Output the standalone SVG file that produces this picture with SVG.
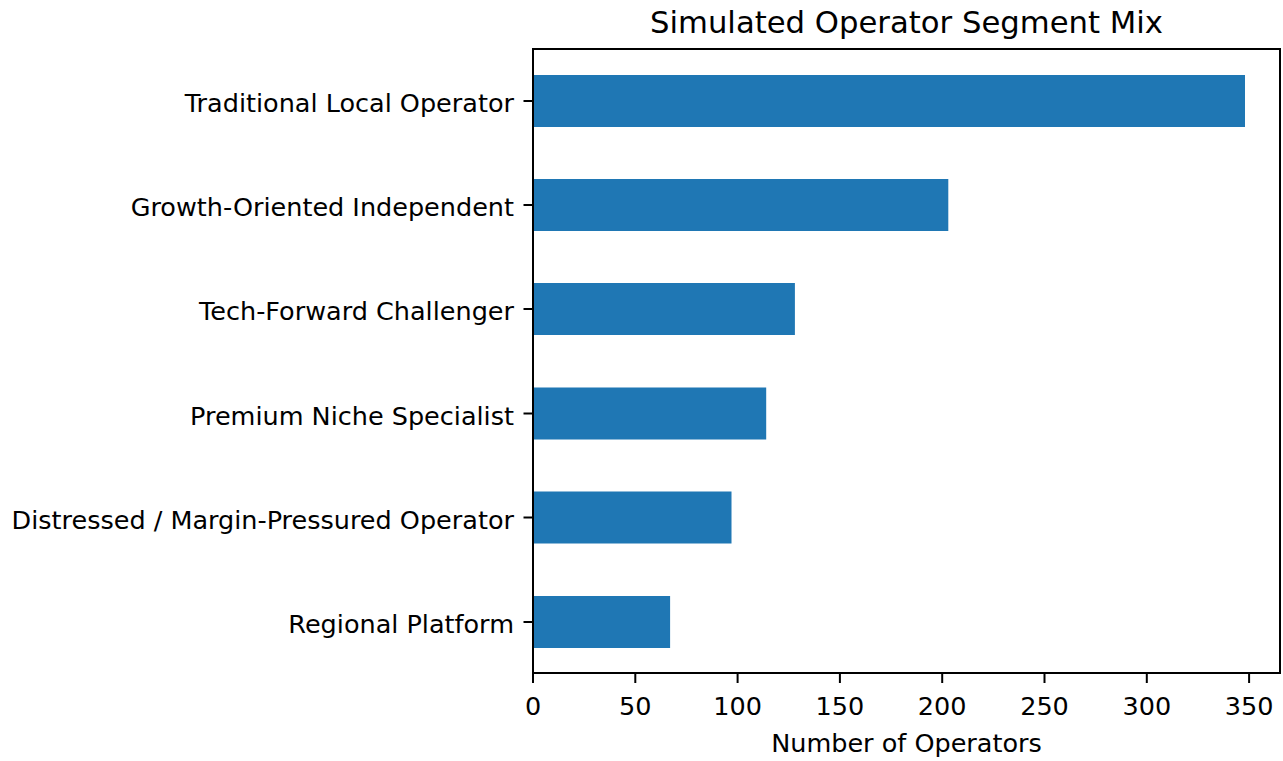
<svg xmlns="http://www.w3.org/2000/svg" width="1283" height="761" viewBox="0 0 1283 761">
<style>
text{font-family:"DejaVu Sans",sans-serif;fill:#000}
.tl{font-size:25.5px}
.yl{text-anchor:end;dominant-baseline:central}
.xl{text-anchor:middle}
.bar{fill:#1f77b4}
.tick{stroke:#000;stroke-width:2}
</style>
<rect width="1283" height="761" fill="#fff"/>
<text x="906.5" y="33" class="xl" style="font-size:30.7px">Simulated Operator Segment Mix</text>
<g id="bars">
<rect id="bar-traditional" class="bar" x="533" y="75" width="712" height="52"/>
<rect id="bar-growth" class="bar" x="533" y="179" width="415.3" height="52"/>
<rect id="bar-tech" class="bar" x="533" y="283" width="261.9" height="52"/>
<rect id="bar-premium" class="bar" x="533" y="387.5" width="233.2" height="52"/>
<rect id="bar-distressed" class="bar" x="533" y="491.5" width="198.5" height="52"/>
<rect id="bar-regional" class="bar" x="533" y="596" width="137.1" height="52"/>
</g>
<g id="axes" fill="none">
<rect x="533" y="49" width="747" height="624" stroke="#000" stroke-width="2"/>
</g>
<g id="yticks">
<line class="tick" x1="523.5" y1="101" x2="533" y2="101"/>
<line class="tick" x1="523.5" y1="205" x2="533" y2="205"/>
<line class="tick" x1="523.5" y1="309" x2="533" y2="309"/>
<line class="tick" x1="523.5" y1="413.5" x2="533" y2="413.5"/>
<line class="tick" x1="523.5" y1="517.5" x2="533" y2="517.5"/>
<line class="tick" x1="523.5" y1="622" x2="533" y2="622"/>
<text class="tl yl" x="514" y="103">Traditional Local Operator</text>
<text class="tl yl" x="514" y="207">Growth-Oriented Independent</text>
<text class="tl yl" x="514" y="311">Tech-Forward Challenger</text>
<text class="tl yl" x="514" y="415.5">Premium Niche Specialist</text>
<text class="tl yl" x="514" y="519.5">Distressed / Margin-Pressured Operator</text>
<text class="tl yl" x="514" y="624">Regional Platform</text>
</g>
<g id="xticks">
<line class="tick" x1="533" y1="673" x2="533" y2="683"/>
<line class="tick" x1="635.3" y1="673" x2="635.3" y2="683"/>
<line class="tick" x1="737.6" y1="673" x2="737.6" y2="683"/>
<line class="tick" x1="839.9" y1="673" x2="839.9" y2="683"/>
<line class="tick" x1="942.2" y1="673" x2="942.2" y2="683"/>
<line class="tick" x1="1044.5" y1="673" x2="1044.5" y2="683"/>
<line class="tick" x1="1146.8" y1="673" x2="1146.8" y2="683"/>
<line class="tick" x1="1249.1" y1="673" x2="1249.1" y2="683"/>
<text class="tl xl" x="533" y="715">0</text>
<text class="tl xl" x="635.3" y="715">50</text>
<text class="tl xl" x="737.6" y="715">100</text>
<text class="tl xl" x="839.9" y="715">150</text>
<text class="tl xl" x="942.2" y="715">200</text>
<text class="tl xl" x="1044.5" y="715">250</text>
<text class="tl xl" x="1146.8" y="715">300</text>
<text class="tl xl" x="1249.1" y="715">350</text>
</g>
<text class="tl xl" x="906.5" y="752">Number of Operators</text>
</svg>
